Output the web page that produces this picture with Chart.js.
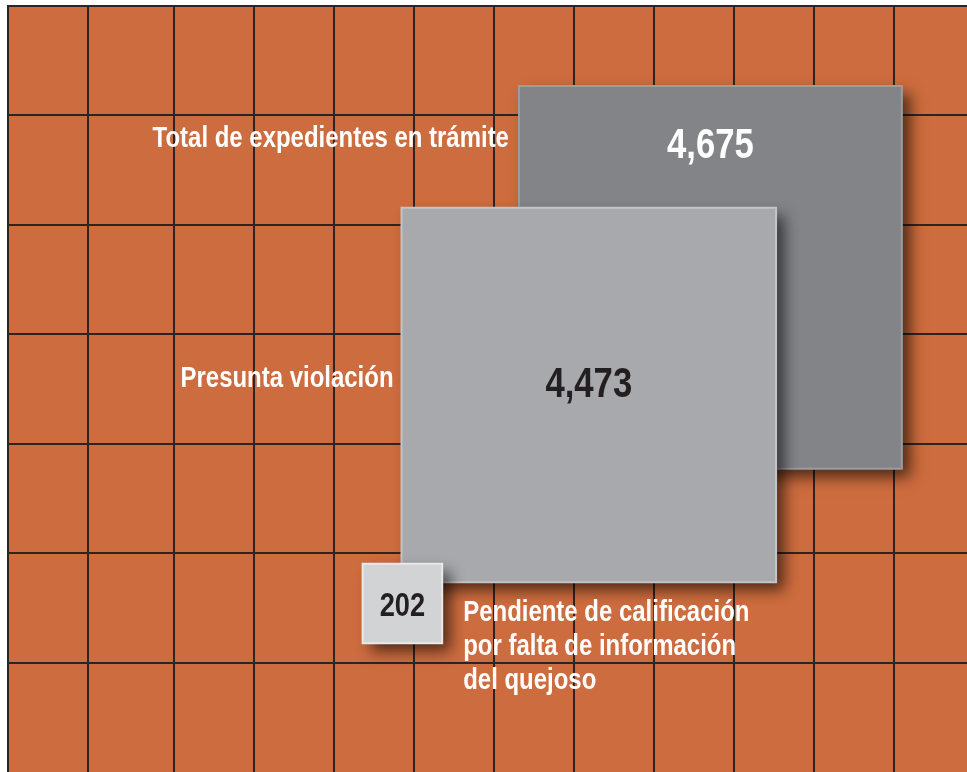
<!DOCTYPE html>
<html>
<head>
<meta charset="utf-8">
<title>Expedientes en trámite</title>
<script src="https://cdn.jsdelivr.net/npm/chart.js@4/dist/chart.umd.min.js"></script>
<style>
  html, body { margin: 0; padding: 0; background: #fff; }
  canvas { display: block; }
</style>
</head>
<body>
<canvas id="chart" width="967" height="772"></canvas>
<script>
// Data
const categories = [
    ["Total de expedientes en trámite"],
    ["Presunta violación"],
    ["Pendiente de calificación", "por falta de información", "del quejoso"]
];
const values = [4675, 4473, 202];

// Layout: square centres in grid units, and text placement
const centres = [
    { x: 8.78, y: 4.52 },
    { x: 7.26, y: 3.445 },
    { x: 4.93, y: 1.54 }
];
const fills = ["#838488", "#a8a9ac", "#d2d3d5"];
const edges = ["#9c9da0", "#c3c4c7", "#e9e9ea"];
const textLayout = [
    { valueDy: 72, valueSize: 42, valueColor: "#ffffff", side: "left", gap: 10, labelDy: 61 },
    { valueDy: 189, valueSize: 42, valueColor: "#231f20", side: "left", gap: 8, labelDy: 179 },
    { valueDy: 52, valueSize: 33, valueColor: "#231f20", side: "right", gap: 21, labelDy: 57 }
];
const FONT = '"Liberation Sans Narrow", "Arial Narrow", "Liberation Sans", sans-serif';
const ORANGE = "#cd6c3e";
const GRID = "#2d2522";

// side of square grows with sqrt(value); 'rect' side = sqrt(2) * r
const radiusOf = v => 3.96 * Math.sqrt(v);

const background = {
    id: "background",
    beforeDraw(chart) {
        const { ctx, chartArea: a } = chart;
        ctx.save();
        ctx.fillStyle = "#ffffff";
        ctx.fillRect(0, 0, chart.width, chart.height);
        ctx.fillStyle = ORANGE;
        ctx.fillRect(a.left, a.top, a.right - a.left, a.bottom - a.top);
        ctx.restore();
    }
};

// drop shadow on the squares, but not on their edges
const shadows = {
    id: "shadows",
    beforeDatasetDraw(chart) {
        const ctx = chart.ctx;
        ctx.save();
        ctx.shadowColor = "rgba(0,0,0,0.62)";
        ctx.shadowBlur = 14;
        ctx.shadowOffsetX = 8;
        ctx.shadowOffsetY = 8;
        const stroke = CanvasRenderingContext2D.prototype.stroke;
        ctx.stroke = function () {
            this.save();
            this.shadowColor = "transparent";
            stroke.apply(this, arguments);
            this.restore();
        };
    },
    afterDatasetDraw(chart) {
        const ctx = chart.ctx;
        delete ctx.stroke;
        ctx.restore();
    }
};

// condensed lettering: squeeze the fallback font to the width of Arial Narrow
function narrowText(ctx, text, x, y) {
    ctx.save();
    ctx.font = "bold 29px " + FONT;
    const k = Math.min(1, 213 / ctx.measureText("Presunta violación").width);
    ctx.restore();
    ctx.save();
    ctx.translate(x, y);
    ctx.scale(k, 1);
    ctx.fillText(text, 0, 0);
    ctx.restore();
}

const squareText = {
    id: "squareText",
    afterDatasetsDraw(chart) {
        const ctx = chart.ctx;
        const meta = chart.getDatasetMeta(0);
        ctx.save();
        ctx.textBaseline = "alphabetic";
        meta.data.forEach((el, i) => {
            const half = Math.SQRT1_2 * el.options.radius;
            const top = el.y - half;
            const t = textLayout[i];

            ctx.fillStyle = t.valueColor;
            ctx.textAlign = "center";
            ctx.font = "bold " + t.valueSize + "px " + FONT;
            narrowText(ctx, values[i].toLocaleString("en-US"), el.x, top + t.valueDy);

            ctx.fillStyle = "#ffffff";
            ctx.font = "bold 29px " + FONT;
            let x;
            if (t.side === "left") {
                ctx.textAlign = "right";
                x = el.x - half - t.gap;
            } else {
                ctx.textAlign = "left";
                x = el.x + half + t.gap;
            }
            categories[i].forEach((line, k) => {
                narrowText(ctx, line, x, top + t.labelDy + k * 34);
            });
        });
        ctx.restore();
    }
};

const ctx = document.getElementById("chart").getContext("2d");
const chart = new Chart(ctx, {
    type: "bubble",
    data: {
        datasets: [{
            data: values.map((v, i) => ({ x: centres[i].x, y: centres[i].y, r: radiusOf(v) })),
            pointStyle: "rect",
            backgroundColor: fills,
            borderColor: edges,
            borderWidth: 2,
            clip: false
        }]
    },
    options: {
        responsive: false,
        animation: false,
        events: [],
        layout: { autoPadding: false, padding: { left: 8, top: 6, right: 0, bottom: 0 } },
        plugins: {
            legend: { display: false },
            tooltip: { enabled: false }
        },
        scales: {
            x: {
                type: "linear",
                min: 0,
                max: 11.9875,
                afterBuildTicks: s => {
                    const t = [0, 1];
                    for (let k = 2; k < 12; k++) t.push(k + 0.075);
                    s.ticks = t.map(v => ({ value: v }));
                },
                ticks: { display: false },
                grid: { color: GRID, lineWidth: 2, drawTicks: false },
                border: { display: false }
            },
            y: {
                type: "linear",
                min: 0,
                max: 7,
                afterBuildTicks: s => {
                    s.ticks = [1, 2, 3, 4, 5, 6, 7].map(v => ({ value: v }));
                },
                ticks: { display: false },
                grid: { color: GRID, lineWidth: 2, drawTicks: false },
                border: { display: true, color: GRID, width: 2 }
            }
        }
    },
    plugins: [background, shadows, squareText]
});
</script>
</body>
</html>
